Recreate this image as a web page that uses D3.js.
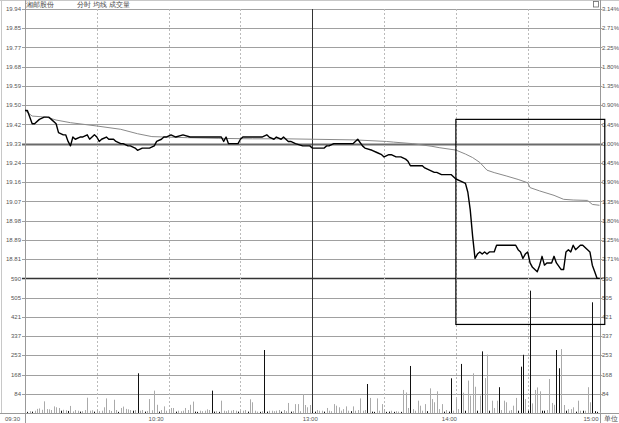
<!DOCTYPE html>
<html><head><meta charset="utf-8">
<script src="https://cdn.jsdelivr.net/npm/d3@7"></script>
<style>body{margin:0;background:#fff}svg{display:block}text{font-family:"Liberation Sans",Arial,sans-serif}</style>
</head><body>
<svg id="c" width="619" height="423"></svg>
<script>
const stockName = "湘邮股份";
const headerItems = "分时 均线 成交量";
const unitLabel = "单位";
const prevClose = 19.33;
const priceStep = 0.0871;
const priceTickLabels = ["19.94","19.85","19.77","19.68","19.59","19.50","19.42","19.33","19.24","19.16","19.07","18.98","18.89","18.81"];
const pctTickLabels = ["3.14%","2.71%","2.25%","1.80%","1.35%","0.90%","0.45%","0.00%","0.45%","0.90%","1.35%","1.80%","2.25%","2.71%"];
const volTickLabels = ["590","505","421","337","253","168","84"];
const volMax = 590;
const timeTicks = [0, 60, 120, 180, 240];
const timeTickLabels = ["09:30","10:30","13:00","14:00","15:00"];
const halfHourMinutes = [30, 60, 90, 150, 180, 210];
const middayMinute = 120;

const priceMinutes = [0,1,3,4,6,8,10,11,13,14,16,17,18,19,20,21,23,24,26,27,29,30,31,32,34,35,37,38,40,41,43,44,46,47,49,51,52,54,55,57,58,59,61,63,66,69,72,76,79,82,83,84,85,87,89,90,91,94,97,99,101,102,104,105,107,108,110,111,113,116,119,120,123,125,126,127,129,130,132,133,135,137,138,139,141,142,145,147,149,150,152,153,155,157,159,160,161,164,166,167,169,171,172,174,176,178,180,182,184,185,186,187,188,189,190,191,192,193,194,195,196,197,198,200,201,203,205,206,207,208,209,210,211,212,214,215,216,217,218,220,221,222,224,225,226,227,228,229,230,232,233,235,236,237,238,239,240];
const priceValues = [19.48,19.48,19.42,19.42,19.44,19.45,19.45,19.44,19.42,19.38,19.37,19.37,19.34,19.32,19.36,19.35,19.36,19.36,19.37,19.35,19.37,19.36,19.34,19.35,19.36,19.35,19.35,19.34,19.33,19.33,19.32,19.32,19.31,19.30,19.31,19.31,19.31,19.32,19.34,19.35,19.36,19.36,19.37,19.36,19.37,19.36,19.36,19.36,19.36,19.36,19.34,19.36,19.33,19.33,19.33,19.35,19.36,19.36,19.36,19.36,19.37,19.36,19.35,19.36,19.35,19.36,19.34,19.34,19.33,19.32,19.32,19.31,19.31,19.31,19.32,19.32,19.33,19.33,19.33,19.33,19.33,19.33,19.34,19.35,19.32,19.31,19.30,19.29,19.28,19.27,19.28,19.28,19.27,19.27,19.26,19.25,19.23,19.23,19.23,19.22,19.21,19.20,19.20,19.19,19.19,19.19,19.17,19.16,19.15,19.11,19.03,18.91,18.81,18.83,18.84,18.83,18.84,18.83,18.84,18.84,18.84,18.87,18.87,18.87,18.87,18.87,18.87,18.85,18.84,18.81,18.83,18.84,18.79,18.77,18.75,18.78,18.82,18.78,18.79,18.79,18.82,18.79,18.76,18.76,18.84,18.85,18.84,18.87,18.85,18.87,18.87,18.85,18.84,18.78,18.75,18.72,18.72];

const avgMinutes = [0,3,9,13,19,30,40,47,53,68,81,95,109,120,138,151,154,162,170,173,180,184,187,190,193,196,201,206,210,211,215,221,225,229,235,237,240];
const avgValues = [19.48,19.455,19.45,19.437,19.425,19.41,19.395,19.375,19.362,19.357,19.354,19.352,19.352,19.350,19.347,19.340,19.337,19.330,19.318,19.312,19.301,19.283,19.267,19.245,19.210,19.199,19.184,19.168,19.153,19.131,19.116,19.096,19.078,19.075,19.073,19.055,19.051];

const volumes = [12,5,8,6,10,18,20,14,51,17,
16,13,29,25,22,10,14,12,9,31,
7,13,10,6,8,13,67,10,12,6,
13,8,10,25,64,13,9,58,13,5,
22,28,18,16,13,10,13,174,10,13,
6,9,61,12,98,36,6,13,29,10,
16,22,22,6,10,8,10,22,13,36,
50,6,5,10,8,10,16,13,98,6,
8,5,54,10,8,12,10,13,10,6,
10,10,13,6,60,47,10,6,5,8,
276,6,10,10,8,10,13,6,13,8,
44,6,8,39,39,8,83,35,25,35,
6,6,13,10,10,6,22,10,8,39,
32,25,10,17,29,10,8,29,10,13,
64,10,13,127,66,6,5,64,10,39,
17,5,6,10,5,8,6,5,101,90,
22,206,17,10,54,32,10,39,8,108,
61,47,95,17,39,6,13,6,152,10,
61,17,215,89,10,142,76,174,115,10,
76,270,153,256,10,54,22,54,113,13,
54,47,10,13,32,66,10,203,255,61,
10,536,42,101,112,95,10,10,13,149,
44,36,276,196,280,35,10,17,17,25,
6,54,10,10,10,113,47,485,8,5,
5];
const sellMinutes = [1,3,15,18,23,29,39,45,47,50,56,63,71,72,78,79,81,89,93,98,100,101,107,111,120,121,125,136,143,145,146,151,152,154,157,161,168,175,177,178,182,184,189,191,194,198,206,207,208,210,211,216,217,222,223,226,230,233,237,238,239];

const boxArea = {minuteStart: 180, minuteEnd: 242.2, topPrice: 19.44, bottomVolume: 388};

(function () {
const W = 619, H = 423;
const pL = 25, pR = 599.5, pT = 9, pB = 413;
const rowH = (pB - pT) / 21;
const splitY = pT + 14 * rowH;

const svg = d3.select("#c");
const x = d3.scaleLinear().domain([0, 240]).range([pL, pR]);
const yP = d3.scaleLinear().domain([prevClose - 7 * priceStep, prevClose + 7 * priceStep]).range([splitY, pT]);
const yV = d3.scaleLinear().domain([0, volMax]).range([pB, splitY]);

svg.append("rect").attr("width", W).attr("height", H).attr("fill", "#fff");

svg.append("line").attr("x1", 0).attr("x2", W).attr("y1", 0.5).attr("y2", 0.5).attr("stroke", "#c8c8c8");
svg.append("line").attr("x1", 1.5).attr("x2", 1.5).attr("y1", 0).attr("y2", pB).attr("stroke", "#c8c8c8");

const rows = d3.range(0, 21);
svg.append("g").selectAll("line").data(rows).join("line")
  .attr("x1", pL - 3).attr("x2", pR + 3)
  .attr("y1", i => Math.round(pT + i * rowH) + 0.5)
  .attr("y2", i => Math.round(pT + i * rowH) + 0.5)
  .attr("stroke", i => i === 7 ? "#6a6a6a" : (i === 14 ? "#333" : "#a0a0a0"))
  .attr("stroke-width", i => i === 7 ? 2 : (i === 14 ? 1.4 : 1));

svg.append("line").attr("x1", 0).attr("x2", W).attr("y1", pB + 0.5).attr("y2", pB + 0.5).attr("stroke", "#999");

svg.append("g").selectAll("line").data(halfHourMinutes).join("line")
  .attr("x1", d => Math.round(x(d)) + 0.5).attr("x2", d => Math.round(x(d)) + 0.5)
  .attr("y1", pT).attr("y2", pB)
  .attr("stroke", "#bbb").attr("stroke-dasharray", "2,2");
svg.append("line").attr("x1", Math.round(x(middayMinute)) + 0.5).attr("x2", Math.round(x(middayMinute)) + 0.5)
  .attr("y1", pT).attr("y2", pB).attr("stroke", "#333");

svg.append("line").attr("x1", pL + 0.5).attr("x2", pL + 0.5).attr("y1", 0).attr("y2", H).attr("stroke", "#999");
svg.append("line").attr("x1", Math.round(pR) + 0.5).attr("x2", Math.round(pR) + 0.5).attr("y1", 0).attr("y2", H).attr("stroke", "#999");

const sellSet = new Set(sellMinutes);
svg.append("g").selectAll("line").data(volumes.map((v, i) => ({v, i}))).join("line")
  .attr("x1", d => Math.round(x(d.i)) + 0.5).attr("x2", d => Math.round(x(d.i)) + 0.5)
  .attr("y1", yV(0)).attr("y2", d => yV(d.v))
  .attr("stroke", d => sellSet.has(d.i) ? "#111" : "#aaa").attr("stroke-width", 1);

const lineGen = d3.line().x(d => x(d[0])).y(d => yP(d[1]));
svg.append("path").datum(avgMinutes.map((m, i) => [m, avgValues[i]]))
  .attr("d", lineGen).attr("fill", "none").attr("stroke", "#8a8a8a").attr("stroke-width", 1);
svg.append("path").datum(priceMinutes.map((m, i) => [m, priceValues[i]]))
  .attr("d", lineGen).attr("fill", "none").attr("stroke", "#000").attr("stroke-width", 1.4).attr("stroke-linejoin", "round");

const leftLabels = priceTickLabels.concat(volTickLabels);
const rightLabels = pctTickLabels.concat(volTickLabels);
svg.append("g").selectAll("text").data(leftLabels).join("text")
  .attr("x", pL - 4).attr("y", (d, i) => pT + i * rowH + 2.2)
  .attr("text-anchor", "end").attr("font-size", 6).attr("fill", "#555").text(d => d);
svg.append("g").selectAll("text").data(rightLabels).join("text")
  .attr("x", pR + 2.5).attr("y", (d, i) => pT + i * rowH + 2.2)
  .attr("text-anchor", "start").attr("font-size", 6).attr("fill", "#555").text(d => d);

const timeAnchor = ["end", "end", "middle", "end", "end"];
const timeDx = [-5, -5, -2, 1, -1];
svg.append("g").selectAll("text").data(timeTicks).join("text")
  .attr("x", (d, i) => x(d) + timeDx[i]).attr("y", 420.5)
  .attr("text-anchor", (d, i) => timeAnchor[i]).attr("font-size", 6).attr("fill", "#555")
  .text((d, i) => timeTickLabels[i]);
svg.append("text").attr("x", pR + 4).attr("y", 420.5).attr("font-size", 6.5)
  .attr("font-family", "Noto Sans CJK SC").attr("fill", "#444").text(unitLabel);

svg.append("text").attr("x", pL + 1).attr("y", 6.5).attr("font-size", 6.5)
  .attr("font-family", "Noto Sans CJK SC").attr("fill", "#444").text(stockName);
svg.append("text").attr("x", 77).attr("y", 6.5).attr("font-size", 6.5)
  .attr("font-family", "Noto Sans CJK SC").attr("fill", "#444").text(headerItems);
svg.append("rect").attr("x", 593.5).attr("y", 1.5).attr("width", 5).attr("height", 5.5)
  .attr("fill", "none").attr("stroke", "#666").attr("stroke-width", 0.8);

svg.append("rect")
  .attr("x", x(boxArea.minuteStart)).attr("y", yP(boxArea.topPrice))
  .attr("width", x(boxArea.minuteEnd) - x(boxArea.minuteStart))
  .attr("height", yV(boxArea.bottomVolume) - yP(boxArea.topPrice))
  .attr("fill", "none").attr("stroke", "#000").attr("stroke-width", 1.2);
})();
</script>
</body></html>
